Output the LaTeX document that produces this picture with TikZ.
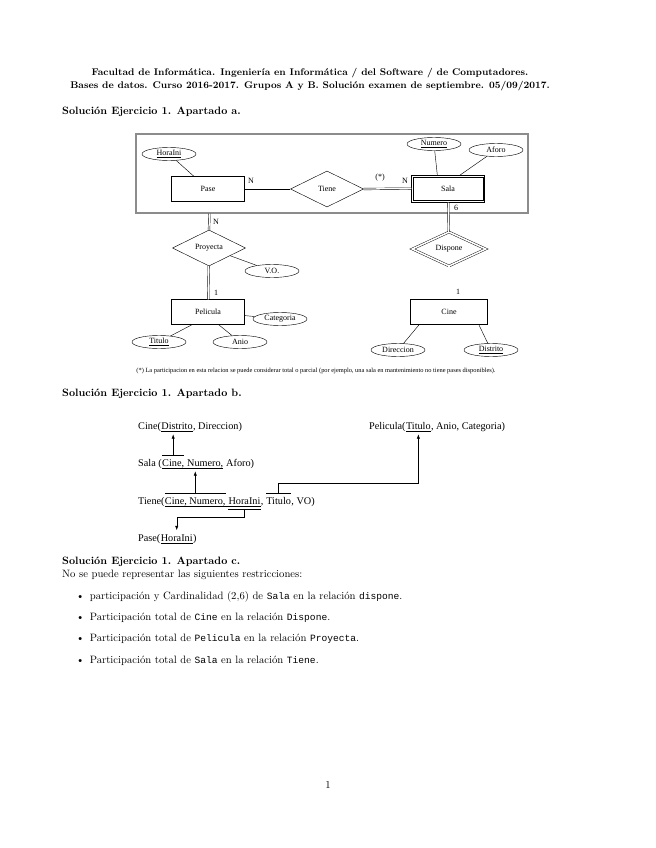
\documentclass[tikz,border=0pt]{standalone}
\usepackage{fontspec}
\setmonofont{Liberation Mono}[Scale=0.9]
\newfontfamily\erfont{Liberation Serif}
\usetikzlibrary{shapes.geometric,positioning,arrows.meta}
\begin{document}
\begin{tikzpicture}[x=0.032962cm,y=-0.032962cm,
  er/.style={font=\erfont\fontsize{7.5}{9}\selectfont},
  entidad/.style={er,draw,rectangle,minimum width=68.5pt,minimum height=23.4pt,inner sep=0},
  atrib/.style={er,draw,ellipse,minimum width=50.6pt,minimum height=12.2pt,inner sep=0},
  relac/.style={er,draw,diamond,minimum width=68.5pt,minimum height=33.8pt,inner sep=0},
  reldebil/.style={relac,double,double distance=1.5pt,minimum width=69pt,minimum height=32pt},
  total/.style={double,double distance=1.2pt},
  card/.style={er,inner sep=0},
  rel/.style={font=\erfont\fontsize{9.6}{11}\selectfont,inner sep=0,text height=7pt,text depth=1.8pt},
  fk/.style={-{Latex[length=4pt,width=3pt]},shorten >=3pt},
  seccion/.style={font=\bfseries,anchor=west,inner sep=0}]
\useasboundingbox (0,0) rectangle (655,848);
\node[font=\bfseries\fontsize{9.1}{12.2}\selectfont,align=center,inner sep=0] (cab) at (310,79.5) {Facultad de Informática. Ingeniería en Informática / del Software / de Computadores.\\
  Bases de datos. Curso 2016-2017. Grupos A y B. Solución examen de septiembre. 05/09/2017.};
\node[seccion] (secA) at (62,112) {Solución Ejercicio 1. Apartado a.};
% modelo E/R
\node[draw=black!45,line width=1pt,minimum width=367.6pt,minimum height=74.1pt,inner sep=0] (agg) at (332,173.5) {};
\node[entidad] (pase) at (208,189) {Pase};
\node[relac] (tiene) at (327,189) {Tiene};
\node[entidad,minimum height=25.3pt] (sala) at (448,189) {Sala};
\draw ([shift={(1.9pt,-1.9pt)}]sala.north west) rectangle ([shift={(-1.9pt,1.9pt)}]sala.south east);
\node[reldebil] (dispone) at (449,249) {Dispone};
\node[entidad,minimum width=72pt] (cine) at (449,312) {Cine};
\node[relac] (proyecta) at (209,248) {Proyecta};
\node[entidad] (pelicula) at (208,312) {Pelicula};
\foreach \n/\x/\y/\txt in {horaini/169/154/\underline{HoraIni},numero/434/144/\underline{Numero},aforo/496/150/Aforo,
  vo/272/271/V.O.,categoria/280/319/Categoria,titulo/159/342/\underline{Titulo},anio/240/342/Anio,
  direccion/398/350/Direccion,distrito/491/350/\underline{Distrito}}
  \node[atrib] (\n) at (\x,\y) {\txt};
\draw (pase) -- (tiene);
\draw[total] (tiene.east) -- ([yshift=0.4pt]sala.west);
\draw[total] (sala) -- (dispone);
\draw[total] (dispone) -- (cine);
\draw[total] ([xshift=0.4pt]proyecta.north |- agg.south) -- (proyecta.north);
\draw[total] (proyecta) -- (pelicula);
\draw (horaini) -- (pase);
\draw (numero) -- ([xshift=-10pt]sala.north);
\draw (aforo) -- ([xshift=11pt]sala.north);
\draw (proyecta) -- (vo);
\draw (pelicula) -- (categoria);
\draw (titulo) -- ([xshift=-15pt]pelicula.south);
\draw (anio) -- ([xshift=10pt]pelicula.south);
\draw (direccion) -- ([xshift=-28pt]cine.south);
\draw (distrito) -- ([xshift=28pt]cine.south);
\node[card] (nPase) at (251,181) {N};
\node[card] (nota) at (380,178) {(*)};
\node[card] (nSala) at (405,181) {N};
\node[card] (seis) at (456,208) {6};
\node[card] (nProy) at (216,222) {N};
\node[card] (unoPel) at (216,293) {1};
\node[card] (unoCine) at (458,292) {1};
\node[font=\erfont\fontsize{6}{7}\selectfont,inner sep=0] (pie) at (316,371) {(*) La participacion en esta relacion se puede considerar total o parcial (por ejemplo, una sala en mantenimiento no tiene pases disponibles).};
\node[seccion] (secB) at (62,394) {Solución Ejercicio 1. Apartado b.};
% esquema relacional
\node[rel,anchor=base west] (cineA) at (138,429) {Cine(};
\node[rel,base right=0pt of cineA] (cineK) {Distrito};
\node[rel,base right=0pt of cineK] (cineT) {, Direccion)};
\node[rel,anchor=base west] (pelA) at (369,429) {Pelicula(};
\node[rel,base right=0pt of pelA] (pelK) {Titulo};
\node[rel,base right=0pt of pelK] (pelT) {, Anio, Categoria)};
\node[rel,anchor=base west] (salaA) at (138,466) {Sala (};
\node[rel,base right=0pt of salaA] (salaC) {Cine,};
\node[rel,base right=2.4pt of salaC] (salaN) {Numero,};
\node[rel,base right=2.4pt of salaN] (salaT) {Aforo)};
\node[rel,anchor=base west] (tieneA) at (138,504) {Tiene(};
\node[rel,base right=0pt of tieneA] (tieneK) {Cine, Numero,};
\node[rel,base right=2.4pt of tieneK] (tieneH) {HoraIni};
\node[rel,base right=0pt of tieneH] (tieneC) {,};
\node[rel,base right=2.4pt of tieneC] (tieneT) {Titulo};
\node[rel,base right=0pt of tieneT] (tieneV) {, VO)};
\node[rel,anchor=base west] (paseA) at (138,541) {Pase(};
\node[rel,base right=0pt of paseA] (paseK) {HoraIni};
\node[rel,base right=0pt of paseK] (paseZ) {)};
\foreach \a/\b in {cineK/cineK,pelK/pelK,salaC/salaN,tieneK/tieneH,paseK/paseK}
  \draw (\a.south west) -- (\b.south east);
\draw ([yshift=3pt]salaC.north west) -- ([yshift=3pt]salaC.north east);
\draw ([yshift=3pt]tieneK.north west) -- ([yshift=3pt]tieneK.north east);
\draw ([yshift=3pt]tieneT.north west) -- ([yshift=3pt]tieneT.north east);
\draw ([yshift=-2.5pt]tieneH.south west) -- ([yshift=-2.5pt]tieneH.south east);
\draw[fk] ([yshift=3pt]salaC.north) -- (salaC.north |- cineK.south);
\draw[fk] ([yshift=3pt]tieneK.north) -- (tieneK.north |- salaN.south);
\draw[fk] ([yshift=3pt]tieneT.north) -- ++(0,-10) -| (pelK.south);
\draw[fk] ([yshift=-2.5pt]tieneH.south) -- ++(0,8) -| (paseK.north);
\node[seccion] (secC) at (62,562) {Solución Ejercicio 1. Apartado c.};
\node[anchor=west,inner sep=0] (intro) at (62,575) {No se puede representar las siguientes restricciones:};
\foreach \i/\y/\txt in {1/597/{participación y Cardinalidad (2,6) de \texttt{Sala} en la relación \texttt{dispone}.},
  2/618/{Participación total de \texttt{Cine} en la relación \texttt{Dispone}.},
  3/639/{Participación total de \texttt{Pelicula} en la relación \texttt{Proyecta}.},
  4/661/{Participación total de \texttt{Sala} en la relación \texttt{Tiene}.}}
  \node[anchor=west,inner sep=0] (item\i) at (76,\y) {\textbullet\hspace{5pt}\txt};
\node[inner sep=0] (pag) at (328,785) {1};
\end{tikzpicture}
\end{document}
